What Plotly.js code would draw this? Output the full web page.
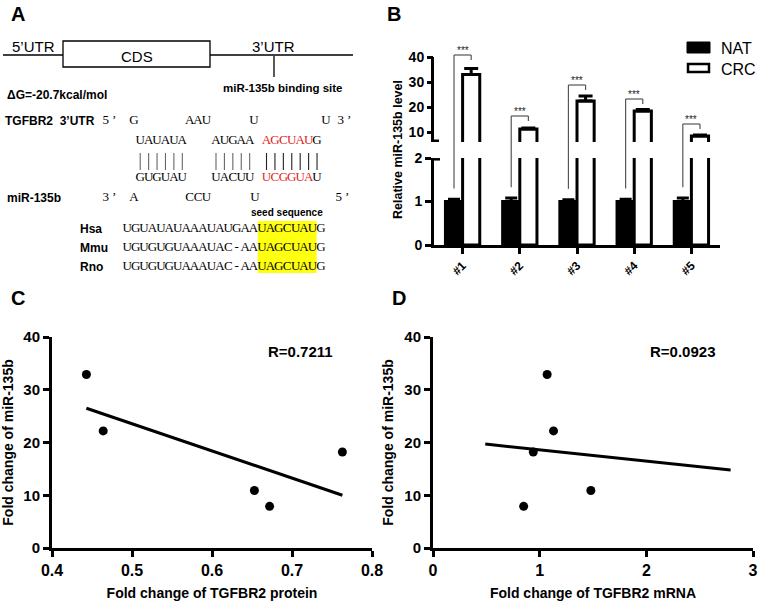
<!DOCTYPE html>
<html>
<head>
<meta charset="utf-8">
<script src="https://cdn.plot.ly/plotly-3.0.1.min.js"></script>
<style>html,body{margin:0;padding:0;background:#fff}</style>
</head>
<body>
<div id="myPlot" style="width:759px;height:601px"></div>
<script>
// ---- panel B: relative miR-135b level
var samples   = ['#1', '#2', '#3', '#4', '#5'];
var groupNames = ['NAT', 'CRC'];
var natLevel  = [1.0, 1.0, 1.0, 1.0, 1.0];
var natErr    = [0.05, 0.08, 0.04, 0.05, 0.08];
var crcLevel  = [33.0, 11.2, 22.4, 18.4, 8.4];
var crcErr    = [2.4, 0.4, 2.0, 0.6, 0.4];
var sigLevel  = [40.8, 16.4, 28.8, 23.2, 13.2];
var sigText   = '***';

// ---- panel C: miR-135b vs TGFBR2 protein
var protFold  = [0.443, 0.464, 0.653, 0.672, 0.763];
var mirFoldC  = [32.9, 22.2, 10.9, 7.9, 18.2];
var fitC_x    = [0.443, 0.763];
var fitC_y    = [26.5, 10.0];
var rC        = 'R=0.7211';

// ---- panel D: miR-135b vs TGFBR2 mRNA
var mrnaFold  = [1.07, 1.13, 0.94, 0.85, 1.48];
var mirFoldD  = [32.9, 22.2, 18.2, 7.9, 10.9];
var fitD_x    = [0.49, 2.79];
var fitD_y    = [19.7, 14.8];
var rD        = 'R=0.0923';

// ---- panel A: binding site sequences
var utrTop    = ['5’', 'G', 'AAU', 'U', 'U', '3’'];
var utrPair   = 'UAUAUA   AUGAA AGCUAUG';
var mirPair   = 'GUGUAU   UACUU UCGGUAU';
var mirBottom = ['3’', 'A', 'CCU', 'U', '5’'];
var species   = ['Hsa', 'Mmu', 'Rno'];
var speciesSeq = ['UGUAUAUAAAUAUGAAUAGCUAUG', 'UGUGUGUAAAUAC-AAUAGCUAUG', 'UGUGUGUAAAUAC-AAUAGCUAUG'];
var redCols   = [15, 20];   // AGCUAU / UCGGUA
var seedCols  = [16, 22];   // UAGCUAU

var W = 759, H = 601;
var sans = 'Liberation Sans, Arial, sans-serif';
var serif = 'Liberation Serif, Times New Roman, serif';
var red = '#e42220';
var pitch = 8.42;

function px(x) { return x / W; }
function py(y) { return 1 - y / H; }

var zeros = samples.map(function () { return 0; });

// B axis domains (lower part 0-2, upper part 6-42)
var domLo = [py(245), py(158)];
var domHi = [py(142), py(52)];

var data = [];

// bars
data.push({type: 'bar', name: groupNames[0], x: samples, y: natLevel, xaxis: 'x', yaxis: 'y',
  width: 0.3, offset: -0.3,
  marker: {color: 'black', line: {color: 'black', width: 3}},
  error_y: {type: 'data', symmetric: false, array: natErr, arrayminus: zeros, color: 'black', thickness: 3, width: 6},
  hoverinfo: 'skip', showlegend: false});
data.push({type: 'bar', name: groupNames[1], x: samples, y: crcLevel, xaxis: 'x', yaxis: 'y',
  width: 0.3, offset: 0,
  marker: {color: 'white', line: {color: 'black', width: 3}},
  hoverinfo: 'skip', showlegend: false});
data.push({type: 'bar', name: groupNames[1], x: samples, y: crcLevel, xaxis: 'x', yaxis: 'y2',
  width: 0.3, offset: 0,
  marker: {color: 'white', line: {color: 'black', width: 3}},
  error_y: {type: 'data', symmetric: false, array: crcErr, arrayminus: zeros, color: 'black', thickness: 3, width: 7},
  hoverinfo: 'skip', showlegend: false});

// scatter C / D
data.push({type: 'scatter', mode: 'lines', x: fitC_x, y: fitC_y, xaxis: 'x3', yaxis: 'y3',
  line: {color: 'black', width: 3}, hoverinfo: 'skip', showlegend: false});
data.push({type: 'scatter', mode: 'markers', x: protFold, y: mirFoldC, xaxis: 'x3', yaxis: 'y3',
  marker: {color: 'black', size: 9}, hoverinfo: 'skip', showlegend: false});
data.push({type: 'scatter', mode: 'lines', x: fitD_x, y: fitD_y, xaxis: 'x4', yaxis: 'y4',
  line: {color: 'black', width: 3}, hoverinfo: 'skip', showlegend: false});
data.push({type: 'scatter', mode: 'markers', x: mrnaFold, y: mirFoldD, xaxis: 'x4', yaxis: 'y4',
  marker: {color: 'black', size: 9}, hoverinfo: 'skip', showlegend: false});

// panel A text rows on a pixel-space hidden axis
function textTrace(xs, ys, ts, cs) {
  return {type: 'scatter', mode: 'text', x: xs, y: ys, text: ts, xaxis: 'x5', yaxis: 'y5',
    textposition: 'middle center', cliponaxis: false,
    textfont: {family: serif, size: 13, color: cs}, hoverinfo: 'skip', showlegend: false};
}
function seqRow(str, x0, y, colorOf) {
  var xs = [], ys = [], ts = [], cs = [];
  for (var i = 0; i < str.length; i++) {
    if (str[i] === ' ') continue;
    xs.push(x0 + pitch * (i + 0.5)); ys.push(y); ts.push(str[i]);
    cs.push(colorOf ? colorOf(i) : 'black');
  }
  return textTrace(xs, ys, ts, cs);
}
function tokenRow(tokens, centers, y) {
  var xs = [], ys = [], ts = [], cs = [];
  tokens.forEach(function (t, k) {
    for (var j = 0; j < t.length; j++) {
      xs.push(centers[k] + (j - (t.length - 1) / 2) * pitch); ys.push(y); ts.push(t[j]); cs.push('black');
    }
  });
  return textTrace(xs, ys, ts, cs);
}
function redOf(i) { return (i >= redCols[0] && i <= redCols[1]) ? red : 'black'; }

data.push(tokenRow(utrTop, [110, 134, 198, 254, 326, 345], 121));
data.push(seqRow(utrPair, 136, 141, redOf));
data.push(seqRow(mirPair, 136, 178, redOf));
data.push(tokenRow(mirBottom, [110, 134, 198, 255, 343], 198));
var speciesY = [229, 248, 267];
speciesSeq.forEach(function (s, k) { data.push(seqRow(s, 123, speciesY[k])); });

// ---- shapes
var shapes = [];
var brk = {color: '#555', width: 1.2};
samples.forEach(function (s, i) {
  var xl = i - 0.15, xr = i + 0.15;
  var yStart = natLevel[i] + natErr[i] + 0.25;
  shapes.push({type: 'line', xref: 'x', yref: 'y', x0: xl, x1: xl, y0: yStart, y1: 2, line: brk});
  shapes.push({type: 'line', xref: 'x', yref: 'paper', x0: xl, x1: xl, y0: domLo[1], y1: domHi[0], line: brk});
  shapes.push({type: 'line', xref: 'x', yref: 'y2', x0: xl, x1: xl, y0: 6, y1: sigLevel[i], line: brk});
  shapes.push({type: 'line', xref: 'x', yref: 'y2', x0: xl, x1: xr, y0: sigLevel[i], y1: sigLevel[i], line: brk});
  shapes.push({type: 'line', xref: 'x', yref: 'y2', x0: xr, x1: xr, y0: sigLevel[i], y1: sigLevel[i] - 2, line: brk});
});
// upper y axis line stops at 40, plus break caps
shapes.push({type: 'line', xref: 'x domain', yref: 'y2', xsizemode: 'pixel', xanchor: 0, x0: -1.5, x1: -1.5, y0: 6, y1: 40, line: {color: 'black', width: 3}});
shapes.push({type: 'line', xref: 'x domain', yref: 'y2', xsizemode: 'pixel', xanchor: 0, x0: -3, x1: 5, y0: 6.5, y1: 6.5, line: {color: 'black', width: 2.5}});
shapes.push({type: 'line', xref: 'x domain', yref: 'y', xsizemode: 'pixel', xanchor: 0, x0: -3, x1: 6, y0: 1.97, y1: 1.97, line: {color: 'black', width: 2.5}});
// legend boxes
shapes.push({type: 'rect', xref: 'paper', yref: 'paper', x0: px(687), x1: px(710), y0: py(53), y1: py(42), fillcolor: 'black', line: {color: 'black', width: 1}});
shapes.push({type: 'rect', xref: 'paper', yref: 'paper', x0: px(688), x1: px(709), y0: py(72), y1: py(64), fillcolor: 'white', line: {color: 'black', width: 2.5}});

// panel A drawing (pixel units on x5/y5)
shapes.push({type: 'line', xref: 'x5', yref: 'y5', x0: 3, x1: 353, y0: 55, y1: 55, line: {color: 'black', width: 1.3}});
shapes.push({type: 'rect', xref: 'x5', yref: 'y5', x0: 63, x1: 210, y0: 41, y1: 67, fillcolor: 'white', line: {color: 'black', width: 1.3}});
shapes.push({type: 'line', xref: 'x5', yref: 'y5', x0: 274, x1: 274, y0: 56, y1: 77, line: {color: 'black', width: 1.3}});
shapes.push({type: 'rect', xref: 'x5', yref: 'y5', layer: 'below',
  x0: 123 + pitch * seedCols[0], x1: 123 + pitch * (seedCols[1] + 1), y0: 221, y1: 273,
  fillcolor: '#ffff10', line: {width: 0}});
for (var i = 0; i < utrPair.length; i++) {
  if (utrPair[i] === ' ' || mirPair[i] === ' ') continue;
  var bx = 136 + pitch * (i + 0.5);
  shapes.push({type: 'line', xref: 'x5', yref: 'y5', x0: bx, x1: bx, y0: 153, y1: 170,
    line: {color: i >= redCols[0] ? '#222' : '#666', width: 1.1}});
}

// ---- annotations
var ann = [];
function note(text, x, y, opt) {
  var a = {text: text, x: x, y: y, xref: 'paper', yref: 'paper', showarrow: false,
    xanchor: 'center', yanchor: 'middle',
    font: {family: sans, size: 12, color: 'black'}};
  for (var k in opt) a[k] = opt[k];
  return a;
}
var boldF = function (s) { return {family: sans, size: s, color: 'black', weight: 'bold'}; };
var regF = function (s) { return {family: sans, size: s, color: 'black'}; };

ann.push(note('A', px(18), py(14), {font: boldF(20)}));
ann.push(note('B', px(394), py(14), {font: boldF(20)}));
ann.push(note('C', px(18), py(298), {font: boldF(20)}));
ann.push(note('D', px(399), py(298), {font: boldF(20)}));

ann.push(note('Relative miR-135b level', px(398), py(150), {textangle: -90, font: boldF(12.5)}));
ann.push(note(groupNames[0], px(719), py(48), {xanchor: 'left', font: regF(16)}));
ann.push(note(groupNames[1], px(719), py(69), {xanchor: 'left', font: regF(16)}));
samples.forEach(function (s, i) {
  ann.push(note(sigText, i, sigLevel[i], {xref: 'x', yref: 'y2', yanchor: 'bottom', yshift: -3,
    font: {family: sans, size: 10, color: '#222'}}));
});
ann.push(note(rC, 0.711, 37.2, {xref: 'x3', yref: 'y3', font: boldF(15)}));
ann.push(note(rD, 2.34, 37.2, {xref: 'x4', yref: 'y4', font: boldF(15)}));

function noteA(text, x, y, opt) {
  var a = note(text, x, y, opt);
  a.xref = 'x5'; a.yref = 'y5';
  return a;
}
ann.push(noteA('5’UTR', 33, 46, {font: regF(15)}));
ann.push(noteA('CDS', 137, 56, {font: regF(15)}));
ann.push(noteA('3’UTR', 273, 46, {font: regF(15)}));
ann.push(noteA('miR-135b binding site', 283, 88, {font: boldF(11.5)}));
ann.push(noteA('ΔG=-20.7kcal/mol', 5, 95, {xanchor: 'left', font: boldF(12)}));
ann.push(noteA('TGFBR2\u00a0\u00a03’UTR', 3, 121, {xanchor: 'left', font: boldF(12)}));
ann.push(noteA('miR-135b', 5, 198, {xanchor: 'left', font: boldF(12)}));
ann.push(noteA('seed sequence', 287, 212, {font: boldF(10)}));
species.forEach(function (s, k) {
  ann.push(noteA(s, 78, speciesY[k], {xanchor: 'left', font: boldF(12)}));
});

// ---- axes
function axStyle(extra) {
  var a = {showline: true, linewidth: 3, linecolor: 'black', ticks: 'outside', ticklen: 6, tickwidth: 3,
    tickcolor: 'black', showgrid: false, zeroline: false, fixedrange: true,
    tickfont: boldF(14)};
  for (var k in extra) a[k] = extra[k];
  return a;
}

var layout = {
  width: W, height: H,
  margin: {l: 0, r: 0, t: 0, b: 0},
  paper_bgcolor: 'white', plot_bgcolor: 'rgba(0,0,0,0)',
  showlegend: false, barmode: 'overlay', hovermode: false,
  xaxis: axStyle({domain: [px(434), px(720)], anchor: 'y', type: 'category', range: [-0.5, 4.5],
    tickangle: -45, tickfont: boldF(12)}),
  yaxis: axStyle({domain: domLo, anchor: 'x', range: [0, 2], tickvals: [0, 1, 2]}),
  yaxis2: axStyle({domain: domHi, anchor: 'x', range: [6, 42], tickvals: [10, 20, 30, 40], showline: false}),
  xaxis3: axStyle({domain: [px(52), px(372)], anchor: 'y3', range: [0.4, 0.8],
    tickvals: [0.4, 0.5, 0.6, 0.7, 0.8], tickfont: boldF(16),
    title: {text: 'Fold change of TGFBR2 protein', font: boldF(14), standoff: 12}}),
  yaxis3: axStyle({domain: [py(548), py(337)], anchor: 'x3', range: [0, 40], tickvals: [0, 10, 20, 30, 40],
    tickfont: boldF(15), title: {text: 'Fold change of miR-135b', font: boldF(14), standoff: 8}}),
  xaxis4: axStyle({domain: [px(433), px(753)], anchor: 'y4', range: [0, 3], tickvals: [0, 1, 2, 3],
    tickfont: boldF(16), title: {text: 'Fold change of TGFBR2 mRNA', font: boldF(14), standoff: 12}}),
  yaxis4: axStyle({domain: [py(548), py(337)], anchor: 'x4', range: [0, 40], tickvals: [0, 10, 20, 30, 40],
    tickfont: boldF(15), title: {text: 'Fold change of miR-135b', font: boldF(14), standoff: 8}}),
  xaxis5: {domain: [0, px(372)], anchor: 'y5', range: [0, 372], visible: false, fixedrange: true},
  yaxis5: {domain: [py(292), 1], anchor: 'x5', range: [292, 0], visible: false, fixedrange: true},
  shapes: shapes,
  annotations: ann
};

Plotly.newPlot('myPlot', data, layout, {staticPlot: true, displayModeBar: false});
</script>
</body>
</html>
